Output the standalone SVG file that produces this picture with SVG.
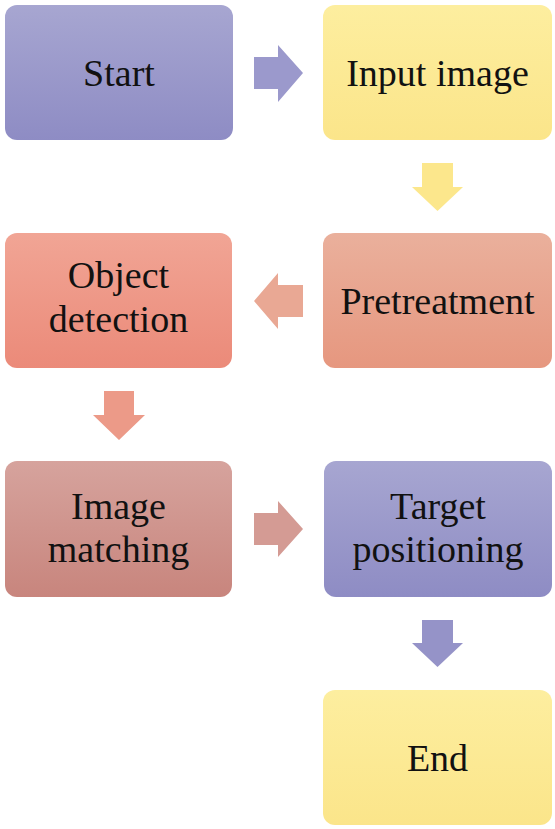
<svg xmlns="http://www.w3.org/2000/svg" width="555" height="829" viewBox="0 0 555 829">
<defs>
<linearGradient id="gPurple" x1="0" y1="0" x2="0" y2="1"><stop offset="0" stop-color="#a7a6d1"/><stop offset="1" stop-color="#8e8cc4"/></linearGradient>
<linearGradient id="gYellow" x1="0" y1="0" x2="0" y2="1"><stop offset="0" stop-color="#fdee9f"/><stop offset="1" stop-color="#fbe58a"/></linearGradient>
<linearGradient id="gPre" x1="0" y1="0" x2="0" y2="1"><stop offset="0" stop-color="#eab09c"/><stop offset="1" stop-color="#e6977f"/></linearGradient>
<linearGradient id="gObj" x1="0" y1="0" x2="0" y2="1"><stop offset="0" stop-color="#f1a595"/><stop offset="1" stop-color="#eb8a79"/></linearGradient>
<linearGradient id="gImg" x1="0" y1="0" x2="0" y2="1"><stop offset="0" stop-color="#d6a39d"/><stop offset="1" stop-color="#c8857d"/></linearGradient>
<style>
.box{stroke:none}
.lbl{font-size:38px;fill:#111;text-anchor:middle}
</style>
</defs>
<rect width="555" height="829" fill="#ffffff"/>
<g id="connectors">
<polygon points="254,57 278,57 278,45 303,73 278,102 278,89 254,89" fill="#9b99cc"/>
<polygon points="422,163 453,163 453,187 463,187 437.5,211 412,187 422,187" fill="#fce78c"/>
<polygon points="303,285 278,285 278,273 254,301 278,329 278,317 303,317" fill="#e9a894"/>
<polygon points="104,391 134,391 134,415 145,415 119,440 93,415 104,415" fill="#ec9a88"/>
<polygon points="254,513 278,513 278,501 303,529 278,557 278,545 254,545" fill="#d49b94"/>
<polygon points="422,620 453,620 453,643 463,643 437.5,667 412,643 422,643" fill="#9593c8"/>
</g>
<g font-family="'Liberation Serif', 'Times New Roman', 'DejaVu Serif', serif">
<g id="start"><rect class="box" x="5" y="5" width="228" height="135" rx="12" fill="url(#gPurple)"/><text class="lbl" x="119" y="86">Start</text></g>
<g id="input"><rect class="box" x="323" y="5" width="229" height="135" rx="12" fill="url(#gYellow)"/><text class="lbl" x="437.5" y="86">Input image</text></g>
<g id="pretreatment"><rect class="box" x="323" y="233" width="229" height="135" rx="12" fill="url(#gPre)"/><text class="lbl" x="437.5" y="314">Pretreatment</text></g>
<g id="object"><rect class="box" x="5" y="233" width="227" height="135" rx="12" fill="url(#gObj)"/><text class="lbl" x="118.5" y="288">Object</text><text class="lbl" x="118.5" y="332">detection</text></g>
<g id="matching"><rect class="box" x="5" y="461" width="227" height="136" rx="12" fill="url(#gImg)"/><text class="lbl" x="118.5" y="519">Image</text><text class="lbl" x="118.5" y="562">matching</text></g>
<g id="target"><rect class="box" x="324" y="461" width="228" height="136" rx="12" fill="url(#gPurple)"/><text class="lbl" x="438" y="519">Target</text><text class="lbl" x="438" y="562">positioning</text></g>
<g id="end"><rect class="box" x="323" y="690" width="229" height="135" rx="12" fill="url(#gYellow)"/><text class="lbl" x="437.5" y="771">End</text></g>
</g>
</svg>
